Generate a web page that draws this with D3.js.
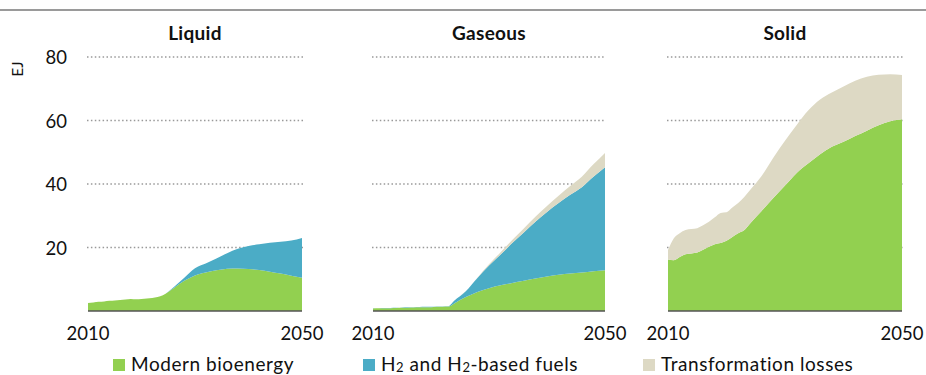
<!DOCTYPE html>
<html>
<head>
<meta charset="utf-8">
<script src="https://cdn.jsdelivr.net/npm/d3@7"></script>
<style>
  html, body { margin: 0; padding: 0; background: #fff; }
  svg { display: block; font-family: Lato, "Open Sans", sans-serif; }
</style>
</head>
<body>
<svg id="chart" width="926" height="375"></svg>
<script>
// Years on the horizontal axis (annual to 2024, then every two years)
const years = [2010, 2011, 2012, 2013, 2014, 2015, 2016, 2017, 2018, 2019, 2020, 2021, 2022, 2023, 2024,
               2026, 2028, 2030, 2032, 2034, 2036, 2038, 2040, 2042, 2044, 2046, 2048, 2050];

// Liquid fuels, EJ
const liquidBio  = [2.5, 2.7, 2.9, 3.0, 3.2, 3.3, 3.5, 3.6, 3.8, 3.7, 3.8, 3.9, 4.1, 4.4, 5.0,
                    7.2, 9.5, 11.2, 12.1, 12.8, 13.3, 13.4, 13.2, 12.9, 12.4, 11.8, 11.1, 10.5];
const liquidH2   = [0, 0, 0, 0, 0, 0, 0, 0, 0, 0, 0, 0, 0, 0, 0,
                    0.3, 1.0, 2.3, 2.9, 3.7, 4.9, 6.2, 7.3, 8.1, 9.1, 10.0, 11.1, 12.5];
const liquidLoss = [0, 0, 0, 0, 0, 0, 0, 0, 0, 0, 0, 0, 0, 0, 0,
                    0, 0, 0, 0, 0, 0, 0, 0, 0, 0, 0, 0, 0];

// Gaseous fuels, EJ
const gaseousBio  = [0.8, 0.85, 0.9, 0.9, 0.95, 1.0, 1.05, 1.1, 1.15, 1.2, 1.2, 1.3, 1.35, 1.4, 2.4,
                     4.4, 6.0, 7.2, 8.1, 8.8, 9.5, 10.2, 10.9, 11.4, 11.8, 12.1, 12.5, 12.8];
const gaseousH2   = [0.05, 0.05, 0.05, 0.05, 0.05, 0.1, 0.1, 0.1, 0.1, 0.1, 0.1, 0.1, 0.1, 0.1, 0.8,
                     1.8, 4.4, 7.1, 9.7, 12.6, 15.2, 17.9, 20.3, 22.6, 24.8, 26.9, 29.8, 32.5];
const gaseousLoss = [0, 0, 0, 0, 0, 0, 0, 0, 0, 0, 0, 0, 0, 0, 0,
                     0, 0.1, 0.4, 0.7, 1.0, 1.3, 1.6, 1.9, 2.3, 2.8, 3.3, 3.9, 4.5];

// Solid fuels, EJ
const solidBio  = [16.2, 16.0, 17.0, 17.9, 18.1, 18.4, 19.3, 20.2, 21.0, 21.4, 22.1, 23.3, 24.5, 25.4, 27.5,
                   31.5, 35.6, 39.5, 43.5, 46.5, 49.4, 51.7, 53.3, 55.1, 56.8, 58.5, 59.8, 60.4];
const solidH2   = [0, 0, 0, 0, 0, 0, 0, 0, 0, 0, 0, 0, 0, 0, 0,
                   0, 0, 0, 0, 0, 0, 0, 0, 0, 0, 0, 0, 0];
const solidLoss = [3.0, 6.9, 7.5, 7.6, 7.7, 7.7, 7.7, 7.9, 8.5, 9.5, 9.0, 9.3, 9.5, 10.4, 10.5,
                   11.0, 12.7, 14.1, 15.1, 16.7, 17.2, 17.1, 17.4, 17.4, 17.0, 15.9, 14.8, 13.9];

const panelTitles = ["Liquid", "Gaseous", "Solid"];
const seriesKeys = ["bio", "h2", "loss"];
const seriesLabels = ["Modern bioenergy", "H2 and H2-based fuels", "Transformation losses"];
const yTicks = [20, 40, 60, 80];
const xTickLabels = [2010, 2050];
const unitLabel = "EJ";

const colors = { bio: "#92D050", h2: "#4BACC6", loss: "#DDD9C4" };

const panels = [
  { title: panelTitles[0], bio: liquidBio, h2: liquidH2, loss: liquidLoss, x0: 88, x1: 302 },
  { title: panelTitles[1], bio: gaseousBio, h2: gaseousH2, loss: gaseousLoss, x0: 373, x1: 605 },
  { title: panelTitles[2], bio: solidBio, h2: solidH2, loss: solidLoss, x0: 668, x1: 902 }
];

const svg = d3.select("#chart");

// thin rule across the top
svg.append("line")
  .attr("x1", 0).attr("x2", 926).attr("y1", 10).attr("y2", 10)
  .attr("stroke", "#9a9a9a").attr("stroke-width", 2);

const y = d3.scaleLinear().domain([0, 80]).range([311, 57]);

const stack = d3.stack().keys(seriesKeys);

panels.forEach((p, i) => {
  const x = d3.scaleLinear().domain([2010, 2050]).range([p.x0, p.x1]);
  const table = years.map((yr, j) => ({ year: yr, bio: p.bio[j], h2: p.h2[j], loss: p.loss[j] }));
  const layers = stack(table);
  const g = svg.append("g");

  // dotted gridlines
  g.selectAll("line.grid").data(yTicks).join("line")
    .attr("class", "grid")
    .attr("x1", p.x0 - 1).attr("x2", p.x1 + 1)
    .attr("y1", d => y(d)).attr("y2", d => y(d))
    .attr("stroke", "#999").attr("stroke-width", 1.5)
    .attr("stroke-dasharray", "1.5,2.4");

  const area = d3.area()
    .x(d => x(d.data.year))
    .y0(d => y(d[0]))
    .y1(d => y(d[1]))
    .curve(d3.curveMonotoneX);

  g.selectAll("path.layer").data(layers).join("path")
    .attr("class", "layer")
    .attr("fill", d => colors[d.key])
    .attr("d", area);

  // base line
  g.append("line")
    .attr("x1", p.x0).attr("x2", p.x1)
    .attr("y1", y(0)).attr("y2", y(0))
    .attr("stroke", "#555").attr("stroke-width", 1.5);

  // panel title
  g.append("text")
    .attr("x", (p.x0 + p.x1) / 2).attr("y", 40)
    .attr("text-anchor", "middle")
    .attr("font-weight", "bold").attr("font-size", 19)
    .attr("letter-spacing", 0.3)
    .attr("fill", "#111")
    .text(p.title);

  // year labels
  g.selectAll("text.xt").data(xTickLabels).join("text")
    .attr("class", "xt")
    .attr("x", d => x(d)).attr("y", 340)
    .attr("text-anchor", "middle")
    .attr("font-size", 18.5).attr("fill", "#111")
    .text(d => d);

  if (i === 0) {
    const yAxis = d3.axisLeft(y).tickValues(yTicks).tickSize(0).tickPadding(0);
    const ag = svg.append("g").attr("transform", "translate(67,0)").call(yAxis);
    ag.select(".domain").remove();
    ag.selectAll("text")
      .attr("font-size", 18.5).attr("fill", "#111")
      .attr("font-family", "Lato, 'Open Sans', sans-serif")
      .attr("dy", "0.36em");

    svg.append("text")
      .attr("transform", "translate(23,69) rotate(-90)")
      .attr("text-anchor", "middle")
      .attr("font-size", 15).attr("fill", "#111")
      .text(unitLabel);
  }
});

// legend
const legendPos = [113, 363, 643];
const lg = svg.append("g");
seriesKeys.forEach((k, i) => {
  lg.append("rect")
    .attr("x", legendPos[i]).attr("y", 359)
    .attr("width", 12).attr("height", 12)
    .attr("fill", colors[k]);
  const t = lg.append("text")
    .attr("x", legendPos[i] + 18).attr("y", 370.5)
    .attr("font-size", 19).attr("letter-spacing", 0.55)
    .attr("fill", "#111");
  if (k === "h2") {
    t.append("tspan").text("H");
    t.append("tspan").attr("font-size", 13).attr("dy", 1.5).text("2");
    t.append("tspan").attr("dy", -1.5).text(" and H");
    t.append("tspan").attr("font-size", 13).attr("dy", 1.5).text("2");
    t.append("tspan").attr("dy", -1.5).text("-based fuels");
  } else {
    t.text(seriesLabels[i]);
  }
});
</script>
</body>
</html>
